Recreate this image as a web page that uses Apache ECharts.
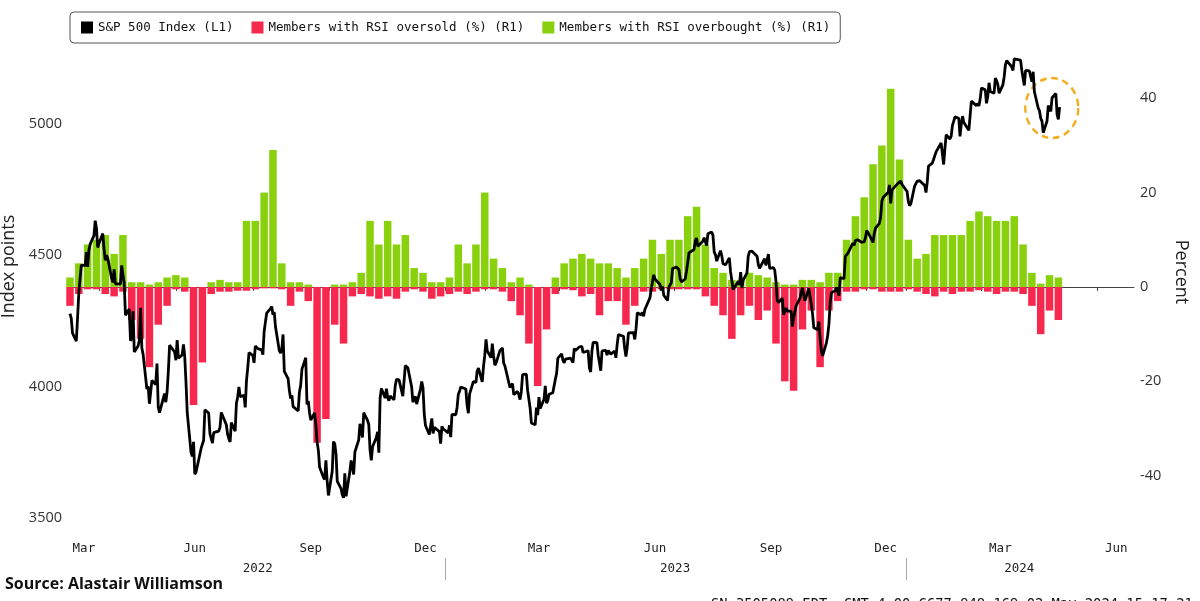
<!DOCTYPE html>
<html>
<head>
<meta charset="utf-8">
<title>S&amp;P 500 and RSI breadth</title>
<script src="https://cdn.jsdelivr.net/npm/echarts@6.0.0/dist/echarts.min.js"></script>
<style>
  html, body { margin: 0; padding: 0; background: #fff; }
  #chart { width: 1200px; height: 601px; }
</style>
</head>
<body>
<div id="chart"></div>
<script>
// exchange holidays inside the plotted range
const holidays = [
  '2022-04-15', '2022-05-30', '2022-06-20', '2022-07-04', '2022-09-05', '2022-11-24', '2022-12-26',
  '2023-01-02', '2023-01-16', '2023-02-20', '2023-04-07', '2023-05-29', '2023-06-19', '2023-07-04',
  '2023-09-04', '2023-11-23', '2023-12-25',
  '2024-01-01', '2024-01-15', '2024-02-19', '2024-03-29'
];

// S&P 500 daily closes, one row per month (2022 starts on 9 Mar)
const spx2022 = [
  [4278, 4260, 4204, 4173, 4262, 4357, 4412, 4463, 4461, 4512, 4456, 4520, 4543, 4575, 4632, 4602, 4530],
  [4546, 4583, 4525, 4481, 4500, 4488, 4413, 4397, 4447, 4392, 4391, 4462, 4459, 4394, 4272, 4296, 4175, 4184, 4287, 4132],
  [4155, 4175, 4300, 4147, 4123, 3991, 4001, 3935, 3930, 4024, 4008, 4088, 3923, 3901, 3901, 3974, 3941, 3979, 4058, 4158, 4132],
  [4101, 4177, 4109, 4121, 4161, 4116, 4018, 3901, 3750, 3735, 3790, 3667, 3675, 3765, 3760, 3796, 3912, 3900, 3821, 3819, 3785],
  [3825, 3831, 3845, 3902, 3899, 3855, 3819, 3802, 3790, 3863, 3831, 3937, 3960, 3999, 3962, 3967, 3921, 4024, 4072, 4130],
  [4119, 4091, 4155, 4152, 4145, 4140, 4122, 4210, 4207, 4280, 4297, 4305, 4274, 4284, 4228, 4138, 4128, 4141, 4199, 4058, 4031, 3986, 3955],
  [3967, 3924, 3908, 3980, 4006, 4067, 4110, 3932, 3946, 3901, 3873, 3900, 3856, 3790, 3758, 3693, 3655, 3647, 3720, 3640, 3586],
  [3678, 3791, 3783, 3745, 3640, 3612, 3589, 3577, 3670, 3583, 3677, 3719, 3695, 3666, 3752, 3797, 3859, 3831, 3807, 3901, 3872],
  [3856, 3760, 3720, 3771, 3807, 3828, 3749, 3956, 3993, 3957, 3992, 3959, 3947, 3965, 3950, 4004, 4028, 4026, 3964, 3958, 4080],
  [4077, 4072, 3999, 3941, 3934, 3963, 3934, 3991, 4020, 3996, 3896, 3852, 3818, 3822, 3879, 3822, 3845, 3829, 3783, 3849, 3840]
];
const spx2023 = [
  [3824, 3853, 3808, 3895, 3893, 3919, 3970, 3983, 3999, 3991, 3929, 3899, 3973, 4020, 4017, 4016, 4060, 4071, 4018, 4077],
  [4119, 4180, 4136, 4111, 4164, 4118, 4082, 4090, 4137, 4136, 4148, 4090, 4079, 3997, 3991, 4012, 3970, 3982, 3970],
  [3951, 3981, 4046, 4048, 3986, 3992, 3918, 3862, 3855, 3920, 3892, 3960, 3917, 3952, 4003, 3937, 3948, 3971, 3977, 3971, 4028, 4051, 4109],
  [4125, 4101, 4091, 4105, 4109, 4108, 4092, 4146, 4138, 4151, 4155, 4154, 4130, 4133, 4137, 4072, 4056, 4136, 4169],
  [4168, 4119, 4091, 4061, 4136, 4138, 4120, 4138, 4131, 4124, 4136, 4110, 4159, 4198, 4192, 4192, 4146, 4115, 4151, 4205, 4206, 4180],
  [4221, 4282, 4273, 4283, 4268, 4294, 4299, 4338, 4369, 4373, 4426, 4410, 4389, 4366, 4382, 4348, 4328, 4378, 4377, 4396, 4450],
  [4456, 4446, 4411, 4399, 4410, 4439, 4472, 4510, 4505, 4522, 4555, 4566, 4535, 4536, 4554, 4567, 4566, 4537, 4582, 4589],
  [4577, 4513, 4502, 4478, 4518, 4499, 4468, 4469, 4464, 4490, 4437, 4404, 4370, 4370, 4400, 4388, 4436, 4376, 4406, 4433, 4497, 4514, 4508],
  [4516, 4497, 4465, 4451, 4457, 4487, 4462, 4468, 4505, 4450, 4453, 4444, 4402, 4330, 4320, 4337, 4274, 4275, 4300, 4288],
  [4288, 4229, 4263, 4258, 4308, 4336, 4358, 4377, 4349, 4327, 4374, 4373, 4314, 4278, 4224, 4217, 4248, 4186, 4137, 4117, 4167, 4194],
  [4238, 4318, 4358, 4365, 4378, 4383, 4347, 4415, 4411, 4496, 4502, 4508, 4514, 4547, 4538, 4556, 4559, 4550, 4555, 4551, 4568],
  [4595, 4569, 4567, 4549, 4585, 4604, 4622, 4644, 4707, 4720, 4719, 4740, 4768, 4698, 4747, 4755, 4775, 4782, 4783, 4770]
];
const spx2024 = [
  [4743, 4705, 4689, 4697, 4764, 4757, 4783, 4780, 4784, 4766, 4739, 4780, 4840, 4851, 4865, 4869, 4894, 4891, 4928, 4925, 4846],
  [4906, 4959, 4943, 4954, 4995, 4998, 5027, 5022, 4953, 5001, 5030, 5006, 4976, 4982, 5087, 5089, 5070, 5078, 5069, 5096],
  [5137, 5130, 5079, 5105, 5157, 5124, 5117, 5175, 5165, 5150, 5117, 5149, 5179, 5225, 5241, 5234, 5218, 5204, 5248, 5254],
  [5243, 5205, 5211, 5147, 5204, 5202, 5209, 5161, 5199, 5123, 5061, 5051, 5022, 5011, 4967, 5011, 5070, 5071, 5048, 5100, 5116, 5036],
  [5018, 5064]
];

// weekly share of members overbought / oversold, first week centred on 9 Mar 2022
const overbought = [
  2, 5, 9, 10, 11, 7, 11, 1, 1, 0.5,
  1, 2, 2.5, 2, 0, 0, 1, 1.5, 1, 1,
  14, 14, 20, 29, 5, 1, 1, 0.5, 0, 0,
  0.5, 0.5, 1, 3, 14, 9, 14, 9, 11, 4,
  3, 1, 1, 2, 9, 5, 9, 20, 6, 4,
  1, 2, 0.5, 0, 0, 2, 5, 6, 7, 6,
  5, 5, 4, 2, 4, 6, 10, 7, 10, 10,
  15, 17, 9, 4, 3, 1.5, 1.5, 3, 2.5, 2,
  1, 0.5, 0.5, 1.5, 1.5, 1, 3, 3, 10, 15,
  19, 26, 30, 42, 27, 10, 6, 7, 11, 11,
  11, 11, 14, 16, 15, 14, 14, 15, 9, 3,
  0.7, 2.5, 2
];
const oversold = [
  -4, -1.5, -0.5, -0.5, -1.5, -2, -1, -7, -11, -17,
  -8, -4, -0.5, -1, -25, -16, -1.5, -1, -1, -0.8,
  -0.8, -0.5, -0.3, -0.3, -0.5, -4, -1, -3, -33, -28,
  -8, -12, -2, -1.5, -2, -2.5, -2, -2.5, -1, -0.5,
  -1, -2.5, -2, -1.5, -1, -1.5, -1, -0.5, -0.5, -1,
  -3, -6, -12, -21, -9, -1.5, -0.5, -0.7, -2, -1.5,
  -6, -3, -3, -8, -4, -1, -1, -0.5, -0.5, -0.5,
  -0.5, -0.5, -2, -4, -6, -11, -6, -4, -7, -5,
  -12, -20, -22, -9, -5, -17, -5, -3, -1, -1,
  -0.5, -0.5, -1, -1, -1, -0.5, -1, -1.5, -2, -1,
  -1.5, -1, -1, -0.7, -1, -1.5, -1, -1, -1.5, -4,
  -10, -5, -7
];

const monthNames = ['Jan', 'Feb', 'Mar', 'Apr', 'May', 'Jun', 'Jul', 'Aug', 'Sep', 'Oct', 'Nov', 'Dec'];
const monthLabelDates = ['2022-03-20', '2022-06-16', '2022-09-16', '2022-12-16', '2023-03-16',
  '2023-06-16', '2023-09-16', '2023-12-16', '2024-03-16', '2024-06-16'];
const yearLabelDates = ['2022-08-05', '2023-07-02', '2024-03-31'];
const yearBreaks = ['2023-01-01', '2024-01-01'];
const circleAt = ['2024-04-25', 5061];

function pad(n) { return n < 10 ? '0' + n : '' + n; }
function toTime(s) {
  const p = s.split('-');
  return new Date(+p[0], +p[1] - 1, +p[2]).getTime();
}
function tradingDays(y, m) {
  const out = [];
  const d = new Date(y, m, 1);
  while (d.getMonth() === m) {
    const wd = d.getDay();
    const key = y + '-' + pad(m + 1) + '-' + pad(d.getDate());
    if (wd > 0 && wd < 6 && holidays.indexOf(key) < 0) out.push(d.getTime());
    d.setDate(d.getDate() + 1);
  }
  return out;
}

const firstDay = new Date(2022, 2, 9).getTime();
const axisStart = firstDay;
const axisEnd = new Date(2024, 5, 30).getTime();

let lineData = [];
[[2022, 2, spx2022], [2023, 0, spx2023], [2024, 0, spx2024]].forEach(([y, m0, rows]) => {
  rows.forEach((vals, k) => {
    const days = tradingDays(y, m0 + k).filter(t => t >= firstDay);
    vals.forEach((v, j) => { if (days[j] !== undefined) lineData.push([days[j], v]); });
  });
});

const weeks = overbought.map((v, i) => new Date(2022, 2, 9 + 7 * i).getTime());

let monthTicks = [];
for (let y = 2022; y <= 2024; y++) {
  for (let m = 0; m < 12; m++) {
    const t = new Date(y, m, 1).getTime();
    if (t > axisStart && t < axisEnd) monthTicks.push(t);
  }
}

const RED = '#f7284d';
const GREEN = '#88d10c';
const monoFont = 'DejaVu Sans Mono';

const chart = echarts.init(document.getElementById('chart'));
chart.setOption({
  animation: false,
  backgroundColor: '#fff',
  title: [{
    text: 'Source: Alastair Williamson',
    left: 5,
    top: 576,
    padding: 0,
    textStyle: { fontFamily: 'Open Sans', fontWeight: 'bold', fontSize: 16, color: '#111' }
  }, {
    text: 'SN 3505089 EDT  GMT-4:00 G677-948-169 02-May-2024 15:17:21',
    left: 711,
    top: 597,
    padding: 0,
    textStyle: { fontFamily: monoFont, fontWeight: 'normal', fontSize: 13.8, color: '#111' }
  }],
  legend: {
    left: 70,
    top: 12,
    padding: [9, 10, 9, 11],
    itemGap: 18,
    itemWidth: 12,
    itemHeight: 12,
    borderColor: '#555',
    borderWidth: 1,
    borderRadius: 4,
    selectedMode: false,
    textStyle: { fontFamily: monoFont, fontSize: 12.5, color: '#111' },
    data: [
      { name: 'S&P 500 Index (L1)', icon: 'rect', itemStyle: { color: '#000' } },
      { name: 'Members with RSI oversold (%) (R1)', icon: 'rect' },
      { name: 'Members with RSI overbought (%) (R1)', icon: 'rect' }
    ]
  },
  grid: { left: 70, right: 66, top: 51, bottom: 63, containLabel: false, outerBoundsMode: 'none' },
  // dates are kept as millisecond timestamps on plain value axes
  xAxis: [{
    type: 'value',
    min: axisStart,
    max: axisEnd,
    axisLine: { lineStyle: { color: '#444', width: 1 } },
    axisTick: { show: true, customValues: monthTicks, length: 4, lineStyle: { color: '#444' } },
    axisLabel: {
      customValues: monthLabelDates.map(toTime),
      formatter: v => monthNames[new Date(v).getMonth()],
      margin: 4,
      fontFamily: monoFont,
      fontSize: 12.5,
      color: '#222'
    },
    splitLine: { show: false }
  }, {
    type: 'value',
    position: 'bottom',
    offset: 20,
    min: axisStart,
    max: axisEnd,
    axisLine: { show: false },
    axisTick: { show: true, customValues: yearBreaks.map(toTime), length: 22, lineStyle: { color: '#aaa' } },
    axisLabel: {
      customValues: yearLabelDates.map(toTime),
      formatter: v => '' + new Date(v).getFullYear(),
      margin: 4,
      fontFamily: monoFont,
      fontSize: 12.5,
      color: '#222'
    },
    splitLine: { show: false }
  }],
  yAxis: [{
    type: 'value',
    position: 'left',
    min: 3424,
    max: 5278,
    name: 'Index points',
    nameLocation: 'middle',
    nameRotate: 90,
    nameGap: 39,
    nameTextStyle: { fontFamily: 'Open Sans', fontSize: 18, color: '#222', padding: [0, 0, 0, 56] },
    axisLine: { show: false },
    axisTick: { show: false },
    splitLine: { show: false },
    axisLabel: {
      customValues: [3500, 4000, 4500, 5000],
      formatter: v => String(v),
      margin: 8, fontFamily: 'Open Sans', fontSize: 14.5, color: '#333'
    }
  }, {
    type: 'value',
    position: 'right',
    min: -53.2,
    max: 50,
    name: 'Percent',
    nameLocation: 'middle',
    nameRotate: -90,
    nameGap: 32,
    nameTextStyle: { fontFamily: 'Open Sans', fontSize: 18, color: '#222', padding: [0, 45, 0, 0] },
    axisLine: { show: false },
    axisTick: { show: false },
    splitLine: { show: false },
    axisLabel: {
      customValues: [-40, -20, 0, 20, 40],
      formatter: v => String(v),
      margin: 6, fontFamily: 'Open Sans', fontSize: 14.5, color: '#333'
    }
  }],
  series: [{
    name: 'Members with RSI oversold (%) (R1)',
    type: 'bar',
    xAxisIndex: 0,
    yAxisIndex: 1,
    stack: 'rsi',
    barWidth: 7.5,
    itemStyle: { color: RED },
    data: weeks.map((t, i) => [t, oversold[i]])
  }, {
    name: 'Members with RSI overbought (%) (R1)',
    type: 'bar',
    xAxisIndex: 0,
    yAxisIndex: 1,
    stack: 'rsi',
    barWidth: 7.5,
    itemStyle: { color: GREEN },
    data: weeks.map((t, i) => [t, overbought[i]])
  }, {
    name: 'S&P 500 Index (L1)',
    type: 'line',
    xAxisIndex: 0,
    yAxisIndex: 0,
    z: 5,
    showSymbol: false,
    symbol: 'none',
    lineStyle: { color: '#000', width: 2.8 },
    itemStyle: { color: '#000' },
    data: lineData,
    markPoint: {
      silent: true,
      symbol: 'circle',
      symbolSize: [53, 60],
      label: { show: false },
      itemStyle: { color: 'rgba(0,0,0,0)', borderColor: '#f2ae1c', borderWidth: 2.5, borderType: [7, 5] },
      data: [{ coord: [toTime(circleAt[0]) + 19 * 3600 * 1000, circleAt[1]] }]
    }
  }]
});
</script>
</body>
</html>
